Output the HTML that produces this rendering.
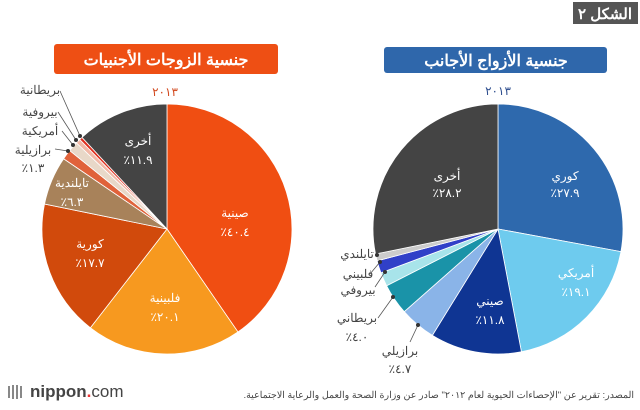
<!DOCTYPE html>
<html><head><meta charset="utf-8"><style>
body{margin:0;background:#fff;}
svg{display:block;font-family:"Liberation Sans","Noto Sans CJK SC",sans-serif;}
</style></head><body>
<svg id="s" width="640" height="410" viewBox="0 0 640 410" xmlns="http://www.w3.org/2000/svg">
<rect x="573" y="2" width="65" height="22" fill="#555"/>
<text x="605" y="19" fill="#fff" font-size="15" font-weight="bold" text-anchor="middle" direction="rtl">الشكل ٢</text>
<rect x="54" y="44" width="224" height="30" rx="3" fill="#ee4f14"/>
<text x="166" y="65" fill="#fff" font-size="16" font-weight="bold" text-anchor="middle" direction="rtl">جنسية الزوجات الأجنبيات</text>
<rect x="384" y="47" width="223" height="26" rx="3" fill="#2f67ab"/>
<text x="496" y="66" fill="#fff" font-size="16" font-weight="bold" text-anchor="middle" direction="rtl">جنسية الأزواج الأجانب</text>
<text x="165" y="96" fill="#d24a20" font-size="12" text-anchor="middle">٢٠١٣</text>
<text x="498" y="95" fill="#2f4f8f" font-size="12" text-anchor="middle">٢٠١٣</text>
<g id="L"></g><g id="R"></g>
<g font-size="12" fill="#fff" text-anchor="middle" direction="rtl">
<text x="235" y="217">صينية</text><text x="235" y="236">٤٠.٤٪</text>
<text x="165" y="302">فلبينية</text><text x="165" y="321">٢٠.١٪</text>
<text x="90" y="248">كورية</text><text x="90" y="267">١٧.٧٪</text>
<text x="72" y="187">تايلندية</text><text x="72" y="206">٦.٣٪</text>
<text x="138" y="145">أخرى</text><text x="138" y="164">١١.٩٪</text>
<text x="565" y="180">كوري</text><text x="565" y="197">٢٧.٩٪</text>
<text x="576" y="277">أمريكي</text><text x="576" y="296">١٩.١٪</text>
<text x="490" y="305">صيني</text><text x="490" y="324">١١.٨٪</text>
<text x="447" y="180">أخرى</text><text x="447" y="197">٢٨.٢٪</text>
</g>
<g font-size="12" fill="#444" text-anchor="middle" direction="rtl">
<text x="40" y="94">بريطانية</text>
<text x="40" y="116">بيروفية</text>
<text x="40" y="135">أمريكية</text>
<text x="33" y="154">برازيلية</text><text x="33" y="172">١.٣٪</text>
<text x="357" y="258">تايلندي</text>
<text x="358" y="278">فلبيني</text>
<text x="358" y="294">بيروفي</text>
<text x="357" y="322">بريطاني</text><text x="357" y="341">٤.٠٪</text>
<text x="400" y="355">برازيلي</text><text x="400" y="373">٤.٧٪</text>
</g>
<g stroke="#555" stroke-width="0.8" fill="none">
<polyline points="60,91 80,136"/><polyline points="58,112 76,140"/><polyline points="62,131 73,145"/><polyline points="55,149 68,151"/>
<polyline points="375,255 378,255"/><polyline points="370,274 380,262"/><polyline points="375,287 385,272"/>
<polyline points="378,318 393,297"/><polyline points="410,342 418,325"/>
</g>
<g fill="#333"><circle cx="80" cy="136" r="2"/><circle cx="76" cy="140" r="2"/><circle cx="73" cy="145" r="2"/><circle cx="68" cy="151" r="2"/>
<circle cx="377" cy="255" r="2"/><circle cx="380" cy="262" r="2"/><circle cx="385" cy="272" r="2"/><circle cx="393" cy="297" r="2"/><circle cx="418" cy="325" r="2"/></g>
<text x="30" y="397" font-size="17" fill="#444" font-weight="bold">nippon<tspan fill="#e33">.</tspan><tspan font-weight="normal">com</tspan></text>
<g fill="#888"><rect x="8" y="386" width="2" height="12"/><rect x="12" y="385" width="2" height="14"/><rect x="16" y="385" width="2" height="14"/><rect x="20" y="386" width="2" height="12"/></g>
<text x="634" y="398" font-size="9.5" fill="#444" text-anchor="start" direction="rtl">المصدر: تقرير عن "الإحصاءات الحيوية لعام ٢٠١٢" صادر عن وزارة الصحة والعمل والرعاية الاجتماعية.</text>
</svg>
<script>
function pie(g,cx,cy,r,data){var a=-Math.PI/2,h='';var tot=data.reduce((s,d)=>s+d[0],0);
data.forEach(function(d){var b=a+d[0]/tot*2*Math.PI;var x1=cx+r*Math.cos(a),y1=cy+r*Math.sin(a),x2=cx+r*Math.cos(b),y2=cy+r*Math.sin(b);
h+='<path d="M'+cx+','+cy+'L'+x1+','+y1+'A'+r+','+r+' 0 '+((b-a)>Math.PI?1:0)+' 1 '+x2+','+y2+'Z" fill="'+d[1]+'" stroke="#fff" stroke-width="0.8"/>';a=b;});
document.getElementById(g).innerHTML=h;}
pie('L',167,229,125,[[40.4,'#f04e12'],[20.1,'#f7991f'],[17.7,'#d14a0c'],[6.3,'#a8825a'],[1.3,'#e0623a'],[1.3,'#e8d8c8'],[0.6,'#f2b8a6'],[0.4,'#e03020'],[11.9,'#444444']]);
pie('R',498,229,125,[[27.9,'#2e69ad'],[19.1,'#6ecbee'],[11.8,'#0f3593'],[4.7,'#8ab4e8'],[4.0,'#1a93a8'],[1.8,'#a8e4ea'],[1.6,'#3040c8'],[0.9,'#cccccc'],[28.2,'#444444']]);
</script>
</body></html>
